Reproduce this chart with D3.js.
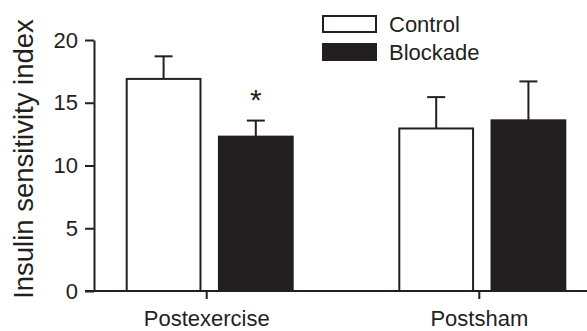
<!DOCTYPE html>
<html>
<head>
<meta charset="utf-8">
<script src="https://cdn.jsdelivr.net/npm/d3@7"></script>
<style>
  html, body { margin: 0; padding: 0; background: #fff; }
  svg { display: block; font-family: "Liberation Sans", Arial, Helvetica, sans-serif; }
</style>
</head>
<body>
<svg id="chart" width="587" height="331"></svg>
<script>
// Insulin sensitivity index, mean + SEM, by condition and group
const categories = ["Postexercise", "Postsham"];
const seriesNames = ["Control", "Blockade"];
const controlMean = [16.9, 12.95];
const controlSem = [1.8, 2.5];
const blockadeMean = [12.3, 13.6];
const blockadeSem = [1.28, 3.1];
const yTicks = [0, 5, 10, 15, 20];
const significant = [[0, "Blockade"]]; // marked with an asterisk

const ink = "#231f20";
const fills = { Control: "#ffffff", Blockade: ink };
const font = "Liberation Sans, Arial, sans-serif";

const series = [
  { name: "Control", mean: controlMean, sem: controlSem },
  { name: "Blockade", mean: blockadeMean, sem: blockadeSem }
];

const rows = [];
categories.forEach((c, i) => {
  series.forEach(s => rows.push({ cat: c, ci: i, name: s.name, mean: s.mean[i], sem: s.sem[i] }));
});

const svg = d3.select("#chart");

const y = d3.scaleLinear().domain([0, 20]).range([291, 40]);
const x = d3.scaleBand().domain(categories).range([70.4, 615.6]).padding(0);
const xSub = d3.scaleBand().domain(seriesNames).range([-80, 86]).paddingInner(0.2);
const center = c => x(c) + x.bandwidth() / 2;

// bars
svg.append("g").selectAll("rect").data(rows).join("rect")
  .attr("x", d => center(d.cat) + xSub(d.name))
  .attr("y", d => y(d.mean))
  .attr("width", xSub.bandwidth())
  .attr("height", d => y(0) - y(d.mean))
  .attr("fill", d => fills[d.name])
  .attr("stroke", ink)
  .attr("stroke-width", 2);

// error bars (upper half only)
const err = svg.append("g").attr("stroke", ink).attr("stroke-width", 2);
rows.forEach(d => {
  const cx = center(d.cat) + xSub(d.name) + xSub.bandwidth() / 2;
  err.append("line").attr("x1", cx).attr("x2", cx)
    .attr("y1", y(d.mean)).attr("y2", y(d.mean + d.sem));
  err.append("line").attr("x1", cx - 9).attr("x2", cx + 9)
    .attr("y1", y(d.mean + d.sem)).attr("y2", y(d.mean + d.sem));
});

// significance markers
significant.forEach(([ci, name]) => {
  const d = rows.find(r => r.ci === ci && r.name === name);
  const cx = center(d.cat) + xSub(name) + xSub.bandwidth() / 2;
  svg.append("text")
    .attr("x", cx).attr("y", y(d.mean + d.sem) - 11)
    .attr("text-anchor", "middle")
    .attr("font-size", 30).attr("fill", ink)
    .text("*");
});

// y axis
const yAxis = svg.append("g")
  .attr("transform", "translate(94,0)")
  .call(d3.axisLeft(y).tickValues(yTicks).tickSize(9).tickSizeOuter(0).tickPadding(7));
yAxis.select(".domain").attr("stroke", ink).attr("stroke-width", 2);
yAxis.selectAll(".tick line").attr("stroke", ink).attr("stroke-width", 2);
yAxis.selectAll(".tick text").attr("font-size", 22).attr("fill", ink)
  .attr("font-family", font);

// x axis
svg.append("line")
  .attr("x1", 85).attr("x2", 587)
  .attr("y1", y(0)).attr("y2", y(0))
  .attr("stroke", ink).attr("stroke-width", 2);
const xAxis = svg.append("g")
  .attr("transform", `translate(0,${y(0)})`)
  .call(d3.axisBottom(x).tickSize(8).tickSizeOuter(0).tickPadding(11));
xAxis.select(".domain").remove();
xAxis.selectAll(".tick line").attr("stroke", ink).attr("stroke-width", 2);
xAxis.selectAll(".tick text").attr("font-size", 22).attr("fill", ink)
  .attr("font-family", font);

// y axis title
svg.append("text")
  .attr("transform", "translate(33,159) rotate(-90)")
  .attr("text-anchor", "middle")
  .attr("font-size", 27.5).attr("fill", ink)
  .text("Insulin sensitivity index");

// legend
const legend = svg.append("g");
seriesNames.forEach((name, i) => {
  const g = legend.append("g").attr("transform", `translate(323,${16 + i * 28})`);
  g.append("rect").attr("width", 53).attr("height", 16)
    .attr("fill", fills[name]).attr("stroke", ink).attr("stroke-width", 2);
  g.append("text").attr("x", 66).attr("y", 16)
    .attr("font-size", 22).attr("fill", ink).text(name);
});
</script>
</body>
</html>
